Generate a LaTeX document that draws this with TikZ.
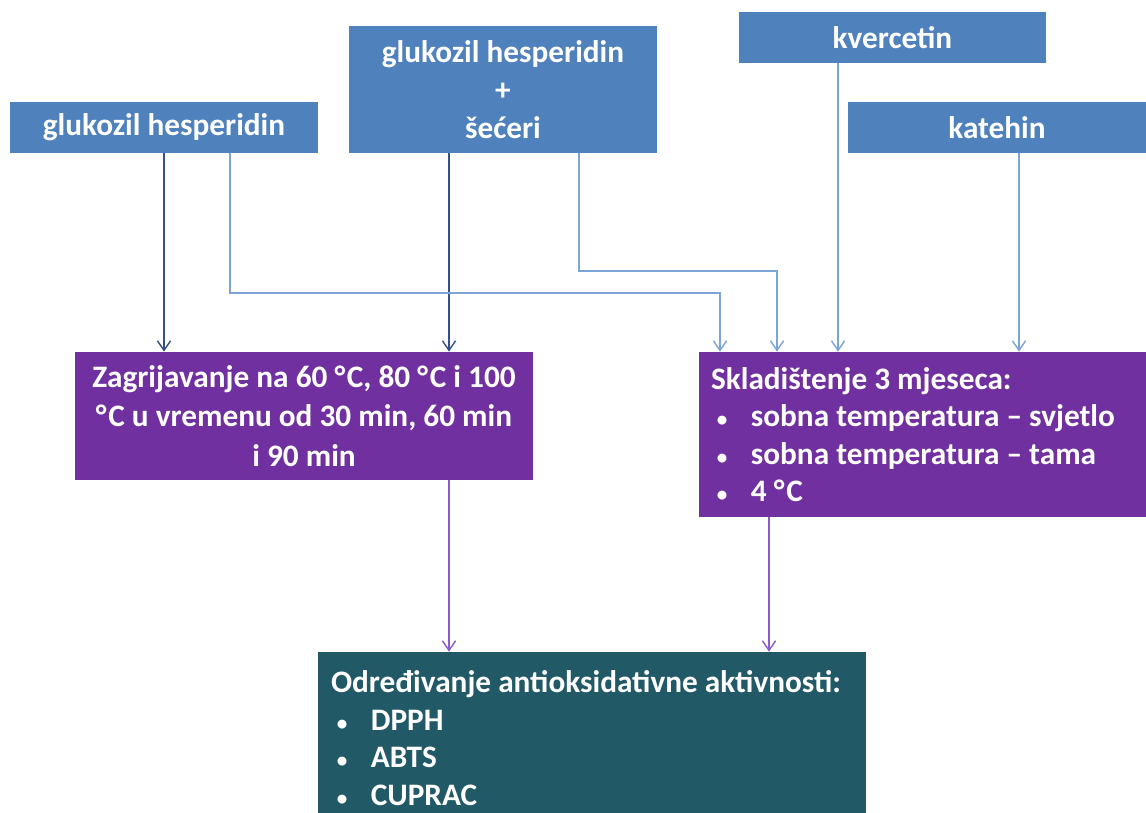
\documentclass[tikz,border=0pt]{standalone}
\usepackage{fontspec}
\setmainfont{Carlito}
\usetikzlibrary{arrows.meta,calc}

\definecolor{boxblue}{HTML}{4F81BD}
\definecolor{boxpurple}{HTML}{7030A0}
\definecolor{boxteal}{HTML}{215967}
\definecolor{linelight}{HTML}{7BA5D8}
\definecolor{linedark}{HTML}{34508A}
\definecolor{linepurple}{HTML}{8A5CC4}

\newcommand{\itm}[1]{\makebox[22.7pt][l]{\hspace{3.4pt}{\fontsize{12}{12}\selectfont\textbullet}}#1}
\newcommand{\degC}{°\kern1pt C}

\begin{document}
\begin{tikzpicture}[x=0.02cm, y=-0.02cm, >={Straight Barb[length=5.5pt,width=7.5pt]},
  box/.style={inner sep=0pt, text=white, font=\bfseries\fontsize{17.8}{21.3}\selectfont},
  blue/.style={box, fill=boxblue, align=center},
  light/.style={->, draw=linelight, line width=0.8pt},
  dark/.style={->, draw=linedark, line width=0.8pt},
  lila/.style={->, draw=linepurple, line width=0.8pt}]
\useasboundingbox (0,0) rectangle (1146,812);

% ulazi
\node (A) [blue, minimum width=308*0.02cm, minimum height=51*0.02cm] at (164,127.5) {glukozil hesperidin};
\node (B) [blue, minimum width=308*0.02cm, minimum height=127*0.02cm] at (503,89.5) {glukozil hesperidin\\[0.5pt]+\\[0.5pt]šećeri};
\node (C) [blue, minimum width=307*0.02cm, minimum height=51*0.02cm] at (892.5,37.5) {kvercetin};
\node (D) [blue, minimum width=298*0.02cm, minimum height=51*0.02cm] at (997,127.5) {katehin};

% postupci
\node (E) [box, fill=boxpurple, align=center, minimum width=458*0.02cm, minimum height=128*0.02cm] at (304,416)
  {Zagrijavanje na 60 \degC, 80 \degC{} i 100\\[1pt]\degC{} u vremenu od 30 min, 60 min\\[1pt]i 90 min};
\node (F) [box, fill=boxpurple, align=flush left, text width=423*0.02cm, inner xsep=12*0.02cm, minimum height=165*0.02cm] at (922.5,434.5)
  {Skladištenje 3 mjeseca:\\\itm{sobna temperatura – svjetlo}\\\itm{sobna temperatura – tama}\\\itm{4 \degC}};
\node (G) [box, fill=boxteal, align=flush left, text width=522*0.02cm, inner xsep=13*0.02cm, minimum height=172*0.02cm] at (592,738)
  {Određivanje antioksidativne aktivnosti:\\\itm{DPPH}\\\itm{ABTS}\\\itm{CUPRAC}};

% tocke lomova
\coordinate (k1) at (230,293);
\coordinate (k2) at (720,293);
\coordinate (k3) at (579,271);
\coordinate (k4) at (777,271);
\coordinate (k5) at (449,0);
\coordinate (k6) at (838,0);
\coordinate (k7) at (1019,0);
\coordinate (k8) at (769,0);

\draw[dark] (A.south) -- (A.south |- E.north);
\draw[dark] (B.south -| k5) -- (E.north -| k5);
\draw[light] (A.south -| k1) -- (k1) -- (k2) -- (F.north -| k2);
\draw[light] (B.south -| k3) -- (k3) -- (k4) -- (F.north -| k4);
\draw[light] (C.south -| k6) -- (F.north -| k6);
\draw[light] (D.south -| k7) -- (F.north -| k7);

\draw[lila] (E.south -| k5) -- (G.north -| k5);
\draw[lila] (F.south -| k8) -- (G.north -| k8);

\end{tikzpicture}
\end{document}
